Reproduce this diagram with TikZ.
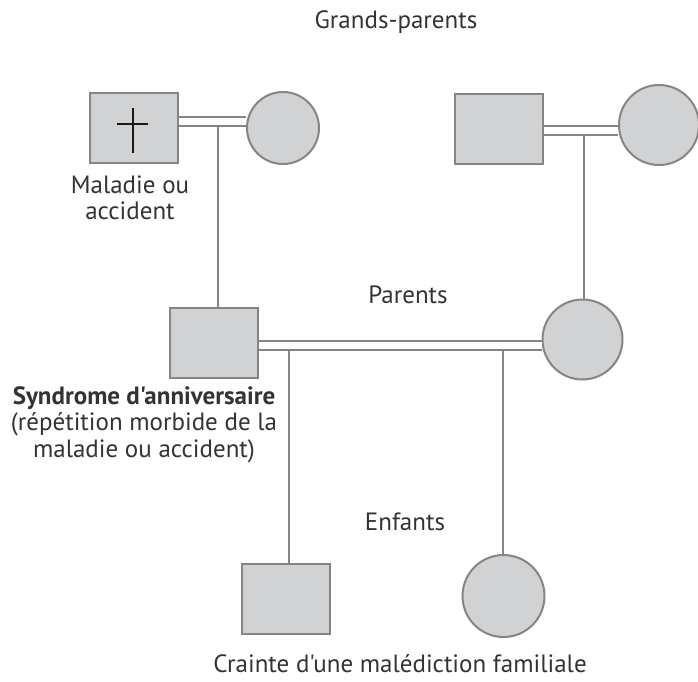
\documentclass[tikz,border=0pt]{standalone}
\usepackage{fontspec}
\setmainfont{PT Sans}[Ligatures=TeXOff]
\definecolor{boxgray}{HTML}{D1D2D4}
\definecolor{linegray}{HTML}{858585}
\definecolor{txt}{HTML}{333333}
\begin{document}
\begin{tikzpicture}[x=1pt,y=-1pt,
  person/.style={draw=linegray,fill=boxgray,line width=2pt,inner sep=0pt},
  male/.style={person,rectangle,minimum width=88pt,minimum height=70pt},
  female/.style={person,circle,minimum size=80pt},
  mar/.style={draw=linegray,line width=2pt,double=white,double distance=7pt},
  link/.style={draw=linegray,line width=2pt},
  lbl/.style={font=\fontsize{25}{26.5}\selectfont,text=txt,inner sep=0pt,anchor=base}]
\useasboundingbox (0,0) rectangle (698,681);
% grandparents
\node[male] (gp1) at (133.5,128) {};
\node[female,minimum size=72pt] (gm1) at (283,128) {};
\node[male] (gp2) at (498.5,128.5) {};
\node[female] (gm2) at (659,125) {};
% parents
\node[male] (p) at (214,343) {};
\node[female] (m) at (582.5,339.5) {};
% children
\node[male] (c1) at (285.5,598.5) {};
\node[female,minimum size=82pt] (c2) at (503.5,596) {};
% cross
\draw[black!90,line width=1.4pt] (133,108) -- (133,153) (117,124) -- (148,124);
% marriage lines
\draw[mar] (gp1.east|-0,121.5) -- (gm1.west|-0,121.5);
\draw[mar] (gp2.east|-0,130.5) -- (gm2.west|-0,130.5);
\draw[mar] (p.east|-0,345.5) -- (m.west|-0,345.5);
% descent
\coordinate (d1) at (218,126);
\coordinate (d2) at (584,135);
\coordinate (d3) at (289,350);
\coordinate (d4) at (503,350);
\draw[link] (d1) -- (d1|-p.north);
\draw[link] (d2) -- (d2|-m.north);
\draw[link] (d3) -- (d3|-c1.north);
\draw[link] (d4) -- (d4|-c2.north);
% labels
\node[lbl] (t1) at (396,28) {Grands-parents};
\node[lbl] (t2) at (130,193) {\begin{tabular}[t]{@{}c@{}}Maladie ou\\accident\end{tabular}};
\node[lbl] (t3) at (408,303) {Parents};
\node[lbl] (t4) at (144,404) {\begin{tabular}[t]{@{}c@{}}\textbf{Syndrome d'anniversaire}\\(répétition morbide de la\\maladie ou accident)\end{tabular}};
\node[lbl] (t5) at (405,530) {Enfants};
\node[lbl] (t6) at (400,672) {Crainte d'une malédiction familiale};
\end{tikzpicture}
\end{document}
